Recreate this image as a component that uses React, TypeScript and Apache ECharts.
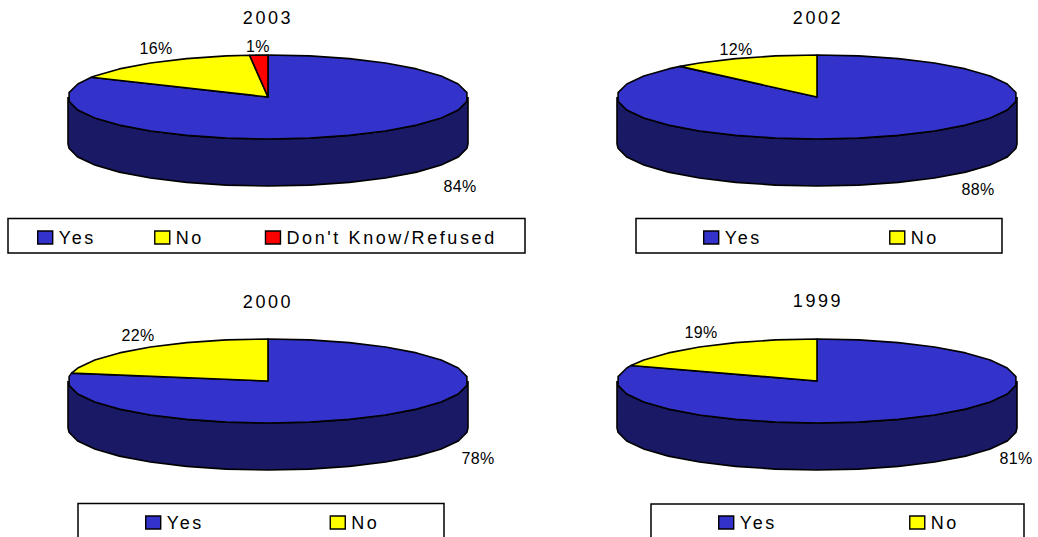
import React, { useEffect, useRef } from "react";
import * as echarts from "echarts";

const yesNoDk = ["Yes", "No", "Don't Know/Refused"];
const yesNo = ["Yes", "No"];
const years = ["2003", "2002", "2000", "1999"];
const values2003 = [84, 16, 1.49];
const values2002 = [88, 12];
const values2000 = [78, 22];
const values1999 = [81, 19];

const TOP = ["#3333CC", "#FFFF00", "#FF0000"];
const SIDE = ["#191966", "#808000", "#800000"];
const FONT = '"Liberation Sans", Arial, sans-serif';
const RX = 200, RY = 42, DEPTH = 47, STEP = 12;

// layout of each panel: pie centre, label centres per slice, title, legend frame and legend items
const panels = [
  { year: years[0], names: yesNoDk, values: values2003, cx: 268, cy: 97, labels: [[460, 186], [156, 48], [258, 46]], title: [263, 4], frame: [8, 218.5, 517, 34.5], legend: [37, 228.5], gap: 66 },
  { year: years[1], names: yesNo, values: values2002, cx: 817, cy: 97, labels: [[978, 189], [736, 49]], title: [813, 4], frame: [636, 218.5, 366, 34.5], legend: [703, 228.5], gap: 135 },
  { year: years[2], names: yesNo, values: values2000, cx: 268, cy: 381, labels: [[478, 458], [138, 335]], title: [263, 288], frame: [78, 503.5, 366, 60], legend: [145, 513.5], gap: 133.5 },
  { year: years[3], names: yesNo, values: values1999, cx: 817, cy: 381, labels: [[1016, 458], [701, 332]], title: [813, 287], frame: [651, 504, 373, 60], legend: [718, 513.5], gap: 140 },
];

function pt(cx: number, cy: number, deg: number, dy = 0) {
  const a = (deg * Math.PI) / 180;
  return [cx + RX * Math.sin(a), cy - RY * Math.cos(a) + dy];
}

function arc(from: number, to: number) {
  const out: number[] = [from];
  let d = Math.ceil(from / STEP + 1e-6) * STEP;
  while (d < to) { out.push(d); d += STEP; }
  out.push(to);
  return out;
}

function sliceSeries(p: any, i: number) {
  const total = p.values.reduce((s: number, v: number) => s + v, 0);
  const before = p.values.slice(0, i).reduce((s: number, v: number) => s + v, 0);
  return {
    type: "custom",
    name: p.names[i],
    coordinateSystem: "none",
    itemStyle: { color: TOP[i] },
    silent: true,
    z: 3,
    data: [[before, p.values[i], total]],
    renderItem: (_: any, api: any) => {
      const start = api.value(0), val = api.value(1), tot = api.value(2);
      const a0 = (start / tot) * 360, a1 = ((start + val) / tot) * 360;
      const children: any[] = [];
      const s0 = Math.max(a0, 90), s1 = Math.min(a1, 270);
      if (s1 > s0) {
        const angles = arc(s0, s1);
        const upper = angles.map((d) => pt(p.cx, p.cy, d));
        const lower = angles.slice().reverse().map((d) => pt(p.cx, p.cy, d, DEPTH));
        children.push({ type: "polygon", shape: { points: upper.concat(lower) }, style: { fill: SIDE[i], stroke: "#000", lineWidth: 1.6 } });
      }
      const rim = arc(a0, a1).map((d) => pt(p.cx, p.cy, d));
      children.push({ type: "polygon", shape: { points: [[p.cx, p.cy], ...rim] }, style: { fill: TOP[i], stroke: "#000", lineWidth: 1.6, lineJoin: "round" } });
      children.push({
        type: "text",
        z2: 10,
        style: {
          text: Math.round(val) + "%",
          x: p.labels[i][0],
          y: p.labels[i][1],
          align: "center",
          verticalAlign: "middle",
          fill: "#000",
          font: `16px ${FONT}`,
        },
      });
      return { type: "group", children };
    },
  };
}

export default function App() {
  const ref = useRef<HTMLDivElement>(null);
  useEffect(() => {
    const chart = echarts.init(ref.current!, undefined, { renderer: "svg" });
    chart.setOption({
      animation: false,
      backgroundColor: "#fff",
      title: panels.map((p) => ({
        text: p.year,
        left: p.title[0],
        top: p.title[1],
        textAlign: "center",
        textStyle: { fontFamily: FONT, fontSize: 18, fontWeight: "normal", color: "#000" },
      })),
      legend: panels.map((p) => ({
        data: p.names,
        left: p.legend[0],
        top: p.legend[1],
        padding: 0,
        orient: "horizontal",
        icon: "rect",
        itemWidth: 15,
        itemHeight: 13,
        itemGap: p.gap,
        selectedMode: false,
        itemStyle: { borderColor: "#000", borderWidth: 1.4 },
        textStyle: { fontFamily: FONT, fontSize: 18, color: "#000", padding: [0, 0, 3, 1] },
      })),
      graphic: panels.map((p) => ({
        type: "rect",
        silent: true,
        z: -1,
        shape: { x: p.frame[0], y: p.frame[1], width: p.frame[2], height: p.frame[3] },
        style: { fill: "#fff", stroke: "#000", lineWidth: 1.5 },
      })),
      series: panels.flatMap((p) => p.values.map((_, i) => sliceSeries(p, i))),
    });
    ref.current!.querySelectorAll("text").forEach((t) => {
      const s = t.textContent || "";
      (t as SVGTextElement).style.letterSpacing = s.endsWith("%") ? "0.4px" : "2.6px";
    });
    return () => chart.dispose();
  }, []);
  return <div ref={ref} style={{ position: "fixed", left: 0, top: 0, width: 1038, height: 537, overflow: "hidden" }} />;
}
